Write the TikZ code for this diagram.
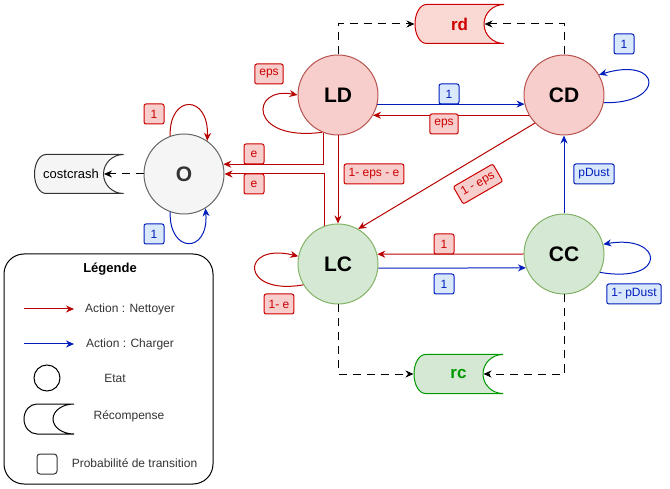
\documentclass[tikz,border=0pt]{standalone}
\usepackage{fontspec}
\setmainfont{Liberation Sans}
\usepackage{tikz}
\usetikzlibrary{arrows.meta}
\definecolor{ldFill}{RGB}{248,206,204}
\definecolor{ldBorder}{RGB}{184,84,80}
\definecolor{lcFill}{RGB}{213,232,212}
\definecolor{lcBorder}{RGB}{130,179,102}
\definecolor{oFill}{RGB}{245,245,245}
\definecolor{oBorder}{RGB}{102,102,102}
\definecolor{cleanRed}{RGB}{184,0,0}
\definecolor{labelRed}{RGB}{204,0,0}
\definecolor{chargeBlue}{RGB}{0,29,188}
\definecolor{labelBlueFill}{RGB}{218,232,252}
\definecolor{rdFill}{RGB}{250,217,213}
\definecolor{rcGreen}{RGB}{0,153,0}
\definecolor{textDark}{RGB}{51,51,51}
\tikzset{
  stateNode/.style={
    circle, minimum size=80pt, inner sep=0pt, line width=1pt,
    font=\bfseries\fontsize{21}{24}\selectfont
  },
  probLabel/.style={
    rectangle, rounded corners=2pt, line width=1pt, minimum width=20pt,
    minimum height=20pt, inner xsep=4.5pt, inner ysep=0pt,
    font=\fontsize{12}{14}\selectfont
  },
  redLabel/.style={probLabel, draw=labelRed, fill=ldFill, text=labelRed},
  blueLabel/.style={probLabel, draw=chargeBlue, fill=labelBlueFill, text=chargeBlue},
  cleanArrow/.style={-{Stealth[length=8pt,width=7pt]}, line width=1pt, draw=cleanRed},
  chargeArrow/.style={-{Stealth[length=8pt,width=7pt]}, line width=1pt, draw=chargeBlue},
  rewardArrow/.style={-{Stealth[length=8pt,width=7pt]}, line width=1pt,
    dash pattern=on 8pt off 6pt, draw=black},
  legendText/.style={font=\fontsize{12}{14}\selectfont, text=textDark},
  recompense/.style 2 args={
    rectangle, minimum width=90pt, minimum height=40pt, inner sep=0pt, outer sep=0pt,
    text=#1, font=\bfseries\fontsize{17}{20}\selectfont,
    path picture={
      \draw[draw=#1, fill=#2, line width=1pt]
        ([shift={(12pt,-0.5pt)}]path picture bounding box.north west)
        -- ([shift={(-0.5pt,-0.5pt)}]path picture bounding box.north east)
        .. controls ([shift={(-11.5pt,-0.5pt)}]path picture bounding box.north east)
           and ([shift={(-20.5pt,10.8pt)}]path picture bounding box.east)
        .. ([xshift=-20.5pt]path picture bounding box.east)
        .. controls ([shift={(-20.5pt,-10.8pt)}]path picture bounding box.east)
           and ([shift={(-11.5pt,0.5pt)}]path picture bounding box.south east)
        .. ([shift={(-0.5pt,0.5pt)}]path picture bounding box.south east)
        -- ([shift={(12pt,0.5pt)}]path picture bounding box.south west)
        .. controls ([shift={(5.6pt,0.5pt)}]path picture bounding box.south west)
           and ([shift={(0.5pt,-10.8pt)}]path picture bounding box.west)
        .. ([xshift=0.5pt]path picture bounding box.west)
        .. controls ([shift={(0.5pt,10.8pt)}]path picture bounding box.west)
           and ([shift={(5.6pt,-0.5pt)}]path picture bounding box.north west)
        .. ([shift={(12pt,-0.5pt)}]path picture bounding box.north west)
        -- cycle;
    }
  }
}
\begin{document}
\begin{tikzpicture}[x=1pt, y=-1pt]
  \useasboundingbox (0,0) rectangle (670,489);

  % etats
  \node[stateNode, draw=oBorder, fill=oFill, text=textDark] (O) at (184,174) {O};
  \node[stateNode, draw=ldBorder, fill=ldFill] (LD) at (338,95) {LD};
  \node[stateNode, draw=ldBorder, fill=ldFill] (CD) at (564,95) {CD};
  \node[stateNode, draw=lcBorder, fill=lcFill] (LC) at (338,264) {LC};
  \node[stateNode, draw=lcBorder, fill=lcFill] (CC) at (564,254) {CC};

  % recompenses
  \node[recompense={labelRed}{rdFill}] (rd) at (459.5,24) {rd};
  \node[recompense={rcGreen}{lcFill}] (rc) at (458.5,374) {rc};
  \node[recompense={textDark}{oFill}, text=black,
        font=\fontsize{13}{15}\selectfont] (costcrash) at (79,174) {\hspace*{-16pt}costcrash};

  % action : nettoyer
  \draw[cleanArrow] (O.110) .. controls (169,94) and (209,94) .. (O.55);
  \draw[cleanArrow] (LD.247) .. controls (248,142) and (250,86) .. (LD.west);
  \draw[cleanArrow] (LD.249.5) |- (O.14.5);
  \draw[cleanArrow] (LC.110.5) |- (O.east);
  \draw[cleanArrow] (LD.south) -- (LC.north);
  \draw[cleanArrow] (CD.210) -- (LD.330);
  \draw[cleanArrow] (CD.224) -- (LC.60);
  \draw[cleanArrow] (CC.west) -- (LC.14.5);
  \draw[cleanArrow] (LC.211) .. controls (240,296) and (240,242) .. (LC.169);

  % action : charger
  \draw[chargeArrow] (O.250) .. controls (169,254) and (209,254) .. (O.302);
  \draw[chargeArrow] (LD.347) -- (CD.193);
  \draw[chargeArrow] (CD.349) .. controls (666,104) and (662,56) .. (CD.30);
  \draw[chargeArrow] (CC.north) -- (CD.south);
  \draw[chargeArrow] (CC.333) .. controls (668,284) and (664,234) .. (CC.14);
  \draw[chargeArrow] (LC.354.3) -- (CC.200.5);

  % vers les recompenses
  \draw[rewardArrow] (O.west) -- ([xshift=-20pt]costcrash.east);
  \draw[rewardArrow] (LD.north) |- (rd.west);
  \draw[rewardArrow] (CD.north) |- ([xshift=-20pt]rd.east);
  \draw[rewardArrow] (LC.south) |- (rc.west);
  \draw[rewardArrow] (CC.south) |- ([xshift=-20pt]rc.east);

  % probabilites
  \node[redLabel] (pOO) at (154,114) {1};
  \node[blueLabel] (qOO) at (154,234) {1};
  \node[redLabel] (pLDLD) at (269,74) {eps};
  \node[redLabel] (pLDO) at (254,154) {e};
  \node[redLabel] (pLCO) at (254,184) {e};
  \node[redLabel] (pLDLC) at (374,174) {1- eps - e};
  \node[blueLabel] (qLDCD) at (449,94) {1};
  \node[redLabel] (pCDLD) at (444,124) {eps};
  \node[blueLabel] (qCDCD) at (624,44) {1};
  \node[blueLabel] (qCCCD) at (594,174) {pDust};
  \node[redLabel, rotate=30] (pCDLC) at (478,184) {1 - eps};
  \node[redLabel] (pCCLC) at (444,244) {1};
  \node[blueLabel] (qLCCC) at (444,284) {1};
  \node[blueLabel] (qCCCC) at (634,294) {1- pDust};
  \node[redLabel] (pLCLC) at (279,304) {1- e};

  % legende
  \node[draw, line width=1pt, rounded corners=20pt, minimum width=209pt,
        minimum height=230pt] (legend) at (108.5,369) {};
  \node[font=\bfseries\fontsize{13}{15}\selectfont] (legendTitle) at (110,269) {Légende};
  \coordinate (nettA) at (24,309);
  \coordinate (nettB) at (74,309);
  \draw[cleanArrow] (nettA) -- (nettB);
  \node[legendText] (nettText) at (130,309) {Action : Nettoyer};
  \coordinate (chargA) at (24,344);
  \coordinate (chargB) at (74,344);
  \draw[chargeArrow] (chargA) -- (chargB);
  \node[legendText] (chargText) at (130,344) {Action : Charger};
  \node[circle, draw, line width=1pt, minimum size=26pt] (legendState) at (47,378) {};
  \node[legendText] (stateText) at (115,378) {Etat};
  \draw[line width=1pt, fill=white] (37,404) -- (74,404)
    .. controls (62.4,404) and (53,410.7) .. (53,419)
    .. controls (53,427.3) and (62.4,434) .. (74,434) -- (37,434)
    .. controls (29.8,434) and (24,427.3) .. (24,419)
    .. controls (24,410.7) and (29.8,404) .. (37,404) -- cycle;
  \node[legendText] (rewardText) at (129,416) {Récompense};
  \node[draw=textDark, rounded corners=3pt, line width=1pt, minimum size=20pt]
    (legendProb) at (47,464) {};
  \node[legendText] (probText) at (134.5,463) {Probabilité de transition};
\end{tikzpicture}
\end{document}
